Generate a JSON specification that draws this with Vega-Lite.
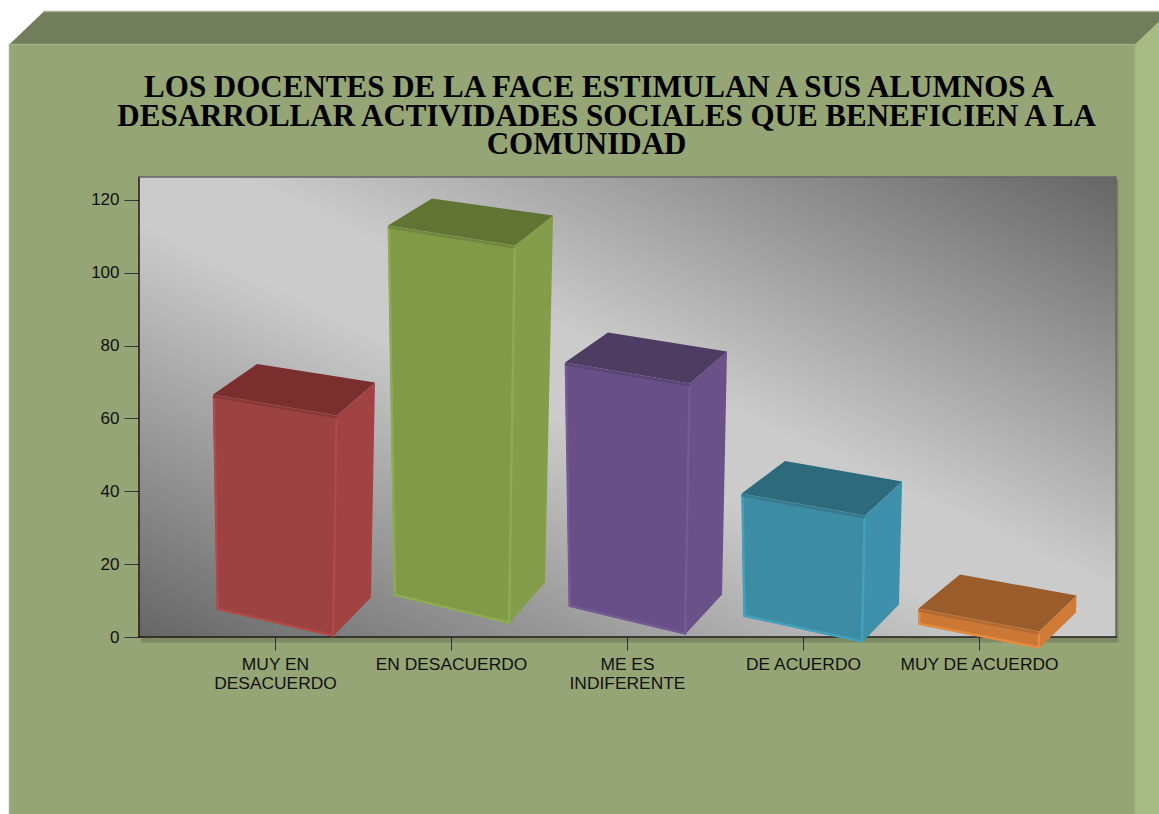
{"$schema":"https://vega.github.io/schema/vega-lite/v6.json","width":977,"height":460,"autosize":"none","padding":{"left":139,"top":177,"right":43,"bottom":177},"background":"#96a576",
"config":{"view":{"stroke":null}},
"datasets":{
"titleLines":[{"text":"LOS DOCENTES DE LA FACE ESTIMULAN A SUS ALUMNOS A","x":2.841,"y":148.13},{"text":"DESARROLLAR ACTIVIDADES SOCIALES QUE BENEFICIEN A LA","x":2.884,"y":140.44},{"text":"COMUNIDAD","x":2.77,"y":132.75}],
"frame":[
{"face":"margin","order":1,"x":-0.5625,"y":175.04},{"face":"margin","order":2,"x":6.023,"y":175.04},{"face":"margin","order":3,"x":6.023,"y":171.75},{"face":"margin","order":4,"x":-0.3125,"y":171.75},{"face":"margin","order":5,"x":-0.5085,"y":162.68},{"face":"margin","order":6,"x":-0.5085,"y":-50},{"face":"margin","order":7,"x":-0.5625,"y":-50},
{"face":"band","order":1,"x":-0.5085,"y":162.68},{"face":"band","order":2,"x":-0.3125,"y":171.75},{"face":"band","order":3,"x":6.023,"y":171.75},{"face":"band","order":4,"x":6.023,"y":169},{"face":"band","order":5,"x":5.886,"y":162.68},
{"face":"side","order":1,"x":5.886,"y":162.68},{"face":"side","order":2,"x":6.023,"y":169},{"face":"side","order":3,"x":6.023,"y":-50},{"face":"side","order":4,"x":5.886,"y":-50},
{"face":"shadow","order":1,"x":5.778,"y":125.6},{"face":"shadow","order":2,"x":5.793,"y":125.6},{"face":"shadow","order":3,"x":5.793,"y":-1.51},{"face":"shadow","order":4,"x":0.239,"y":-1.51},{"face":"shadow","order":5,"x":0.239,"y":-0.14},{"face":"shadow","order":6,"x":5.778,"y":-0.14}],
"panel":[{"x":0.2273,"x2":5.7784,"y":0,"y2":126.3}],
"lines":[
{"edge":"frameEdge","part":"a","order":1,"x":-0.5085,"y":-50},{"edge":"frameEdge","part":"a","order":2,"x":-0.5085,"y":162.68},{"edge":"frameEdge","part":"a","order":3,"x":5.886,"y":162.68},{"edge":"frameEdge","part":"a","order":4,"x":5.886,"y":-50},
{"edge":"bandEdge","part":"b","order":1,"x":-0.3125,"y":171.75},{"edge":"bandEdge","part":"b","order":2,"x":6.023,"y":171.75},
{"edge":"panelDark","part":"c","order":1,"x":0.2273,"y":0},{"edge":"panelDark","part":"c","order":2,"x":0.2273,"y":126.3},
{"edge":"panelGray","part":"d","order":1,"x":0.2273,"y":126.3},{"edge":"panelGray","part":"d","order":2,"x":5.7784,"y":126.3},{"edge":"panelGray","part":"d","order":3,"x":5.7784,"y":0},
{"edge":"panelDark","part":"e","order":1,"x":0.2273,"y":0},{"edge":"panelDark","part":"e","order":2,"x":5.7784,"y":0}],
"bars":[
{"face":"redFront","order":1,"x":0.648,"y":66.58},{"face":"redFront","order":2,"x":1.352,"y":60.82},{"face":"redFront","order":3,"x":1.33,"y":0.14},{"face":"redFront","order":4,"x":0.67,"y":7.55},
{"face":"redSide","order":1,"x":1.352,"y":60.82},{"face":"redSide","order":2,"x":1.568,"y":69.88},{"face":"redSide","order":3,"x":1.545,"y":10.85},{"face":"redSide","order":4,"x":1.33,"y":0.14},
{"face":"redTop","order":1,"x":0.648,"y":66.58},{"face":"redTop","order":2,"x":0.898,"y":74.96},{"face":"redTop","order":3,"x":1.568,"y":69.88},{"face":"redTop","order":4,"x":1.352,"y":60.82},
{"face":"greenFront","order":1,"x":1.642,"y":112.99},{"face":"greenFront","order":2,"x":2.364,"y":107.5},{"face":"greenFront","order":3,"x":2.33,"y":3.71},{"face":"greenFront","order":4,"x":1.676,"y":11.39},
{"face":"greenSide","order":1,"x":2.364,"y":107.5},{"face":"greenSide","order":2,"x":2.58,"y":115.73},{"face":"greenSide","order":3,"x":2.534,"y":14.96},{"face":"greenSide","order":4,"x":2.33,"y":3.71},
{"face":"greenTop","order":1,"x":1.642,"y":112.99},{"face":"greenTop","order":2,"x":1.892,"y":120.4},{"face":"greenTop","order":3,"x":2.58,"y":115.73},{"face":"greenTop","order":4,"x":2.364,"y":107.5},
{"face":"purpleFront","order":1,"x":2.648,"y":75.37},{"face":"purpleFront","order":2,"x":3.358,"y":69.6},{"face":"purpleFront","order":3,"x":3.33,"y":0.69},{"face":"purpleFront","order":4,"x":2.67,"y":8.37},
{"face":"purpleSide","order":1,"x":3.358,"y":69.6},{"face":"purpleSide","order":2,"x":3.568,"y":78.39},{"face":"purpleSide","order":3,"x":3.54,"y":11.67},{"face":"purpleSide","order":4,"x":3.33,"y":0.69},
{"face":"purpleTop","order":1,"x":2.648,"y":75.37},{"face":"purpleTop","order":2,"x":2.892,"y":83.61},{"face":"purpleTop","order":3,"x":3.568,"y":78.39},{"face":"purpleTop","order":4,"x":3.358,"y":69.6},
{"face":"blueFront","order":1,"x":3.651,"y":39.4},{"face":"blueFront","order":2,"x":4.352,"y":33.36},{"face":"blueFront","order":3,"x":4.335,"y":-1.51},{"face":"blueFront","order":4,"x":3.662,"y":5.63},
{"face":"blueSide","order":1,"x":4.352,"y":33.36},{"face":"blueSide","order":2,"x":4.563,"y":42.7},{"face":"blueSide","order":3,"x":4.545,"y":8.92},{"face":"blueSide","order":4,"x":4.335,"y":-1.51},
{"face":"blueTop","order":1,"x":3.651,"y":39.4},{"face":"blueTop","order":2,"x":3.898,"y":48.33},{"face":"blueTop","order":3,"x":4.563,"y":42.7},{"face":"blueTop","order":4,"x":4.352,"y":33.36},
{"face":"orangeFront","order":1,"x":4.656,"y":7.83},{"face":"orangeFront","order":2,"x":5.341,"y":1.51},{"face":"orangeFront","order":3,"x":5.341,"y":-3.16},{"face":"orangeFront","order":4,"x":4.656,"y":3.43},
{"face":"orangeSide","order":1,"x":5.341,"y":1.51},{"face":"orangeSide","order":2,"x":5.554,"y":11.39},{"face":"orangeSide","order":3,"x":5.551,"y":6.73},{"face":"orangeSide","order":4,"x":5.341,"y":-3.16},
{"face":"orangeTop","order":1,"x":4.656,"y":7.83},{"face":"orangeTop","order":2,"x":4.892,"y":17.16},{"face":"orangeTop","order":3,"x":5.554,"y":11.39},{"face":"orangeTop","order":4,"x":5.341,"y":1.51}],
"barEdges":[
{"edge":"redLight","order":1,"x":0.653,"y":66.2},{"edge":"redLight","order":2,"x":0.675,"y":7.75},{"edge":"redLight","order":3,"x":1.33,"y":0.4},{"edge":"redLight","order":4,"x":1.35,"y":60.4},
{"edge":"redDark","order":1,"x":0.648,"y":66.1},{"edge":"redDark","order":2,"x":1.352,"y":60.3},
{"edge":"greenLight","order":1,"x":1.647,"y":112.6},{"edge":"greenLight","order":2,"x":1.681,"y":11.6},{"edge":"greenLight","order":3,"x":2.33,"y":3.95},{"edge":"greenLight","order":4,"x":2.362,"y":107.1},
{"edge":"greenDark","order":1,"x":1.642,"y":112.5},{"edge":"greenDark","order":2,"x":2.364,"y":107},
{"edge":"purpleLight","order":1,"x":2.653,"y":75},{"edge":"purpleLight","order":2,"x":2.675,"y":8.6},{"edge":"purpleLight","order":3,"x":3.33,"y":0.95},{"edge":"purpleLight","order":4,"x":3.356,"y":69.2},
{"edge":"purpleDark","order":1,"x":2.648,"y":74.9},{"edge":"purpleDark","order":2,"x":3.358,"y":69.1},
{"edge":"blueLight","order":1,"x":3.656,"y":39},{"edge":"blueLight","order":2,"x":3.667,"y":5.85},{"edge":"blueLight","order":3,"x":4.335,"y":-1.25},{"edge":"blueLight","order":4,"x":4.35,"y":33},
{"edge":"blueDark","order":1,"x":3.651,"y":38.9},{"edge":"blueDark","order":2,"x":4.352,"y":32.9},
{"edge":"orangeLight","order":1,"x":4.661,"y":7.4},{"edge":"orangeLight","order":2,"x":4.661,"y":3.65},{"edge":"orangeLight","order":3,"x":5.341,"y":-2.9},{"edge":"orangeLight","order":4,"x":5.339,"y":1.1},
{"edge":"orangeDark","order":1,"x":4.656,"y":7.3},{"edge":"orangeDark","order":2,"x":5.341,"y":1}]},
"encoding":{
"x":{"field":"x","type":"quantitative","scale":{"domain":[0.2273,5.7784],"nice":false,"zero":false},"axis":{"title":null,"grid":false,"domain":false,"values":[1,2,3,4,5],"tickColor":"#333333","tickSize":13,"labelPadding":5,"labelFont":"Liberation Sans","labelFontSize":17.4,"labelColor":"#111111","labelLineHeight":19,"labelOverlap":false,"labelFlush":false,"labelBaseline":"top","labelAngle":0,"labelExpr":"datum.value==1?['MUY EN','DESACUERDO']:datum.value==2?'EN DESACUERDO':datum.value==3?['ME ES','INDIFERENTE']:datum.value==4?'DE ACUERDO':'MUY DE ACUERDO'"}},
"y":{"field":"y","type":"quantitative","scale":{"domain":[0,126.3],"nice":false,"zero":false},"axis":{"title":null,"grid":false,"domain":false,"values":[0,20,40,60,80,100,120],"tickColor":"#333333","tickSize":15,"labelPadding":5,"labelFont":"Liberation Sans","labelFontSize":17,"labelColor":"#111111"}}},
"resolve":{"scale":{"fill":"independent","stroke":"independent"}},
"layer":[
{"data":{"name":"frame"},"mark":{"type":"line","strokeWidth":0},"encoding":{"fill":{"field":"face","type":"nominal","legend":null,"scale":{"domain":["margin","band","side","shadow"],"range":["#ffffff","#727d5b","#a9bb84","rgba(0,0,0,0.17)"]}},"detail":{"field":"face"},"order":{"field":"order","type":"quantitative"}}},
{"data":{"name":"panel"},"mark":{"type":"rect","fill":{"gradient":"linear","x1":0,"y1":1,"x2":1,"y2":0,"stops":[{"offset":0,"color":"#666666"},{"offset":0.45,"color":"#cbcbcb"},{"offset":0.55,"color":"#cbcbcb"},{"offset":1,"color":"#666666"}]}},"encoding":{"x2":{"field":"x2"},"y2":{"field":"y2"}}},
{"data":{"name":"lines"},"mark":{"type":"line","strokeWidth":1.5,"strokeCap":"square"},"encoding":{"stroke":{"field":"edge","type":"nominal","legend":null,"scale":{"domain":["frameEdge","bandEdge","panelDark","panelGray"],"range":["#a3b283","#a9b196","#1a1a1a","#666666"]}},"detail":{"field":"part"},"order":{"field":"order","type":"quantitative"}}},
{"data":{"name":"bars"},"mark":{"type":"line","strokeWidth":0},"encoding":{"fill":{"field":"face","type":"nominal","legend":null,"scale":{"domain":["redFront","redSide","redTop","greenFront","greenSide","greenTop","purpleFront","purpleSide","purpleTop","blueFront","blueSide","blueTop","orangeFront","orangeSide","orangeTop"],"range":["#9c4240","#a14342","#7a2e2d","#809a48","#839d4b","#617434","#684f87","#6a5289","#4e3d63","#3e8ba4","#3f90aa","#2d6a7c","#cb7735","#d07c38","#9a5c2a"]}},"detail":{"field":"face"},"order":{"field":"order","type":"quantitative"}}},
{"data":{"name":"barEdges"},"mark":{"type":"line","strokeWidth":2.5},"encoding":{"stroke":{"field":"edge","type":"nominal","legend":null,"scale":{"domain":["redLight","redDark","greenLight","greenDark","purpleLight","purpleDark","blueLight","blueDark","orangeLight","orangeDark"],"range":["#b04a48","#8a3736","#8dab4f","#70883e","#745a96","#5a4676","#44a1bd","#367a90","#e58a3e","#b46a30"]}},"detail":{"field":"edge"},"order":{"field":"order","type":"quantitative"}}},
{"data":{"name":"titleLines"},"mark":{"type":"text","font":"Liberation Serif","fontSize":31,"fontWeight":"bold","color":"#000000","align":"center","baseline":"alphabetic"},"encoding":{"text":{"field":"text"}}}
]}
